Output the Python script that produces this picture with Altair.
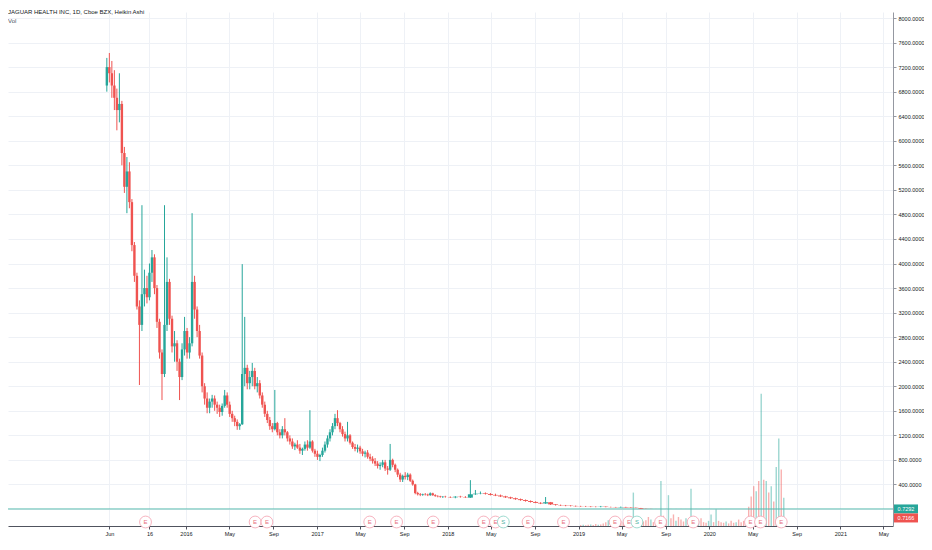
import altair as alt
import pandas as pd

TEAL = "#26a69a"
RED = "#ef5350"
FONT = "Liberation Sans"

title_text = "JAGUAR HEALTH INC, 1D, Cboe BZX, Heikin Ashi"
sub_text = "Vol"

# ---- weekly Heikin Ashi candles (from 2015-05-25) ----
wk_start = "2015-05-25"
wk_open = [6900, 7200, 7100, 6900, 6700, 6500, 6600, 5800, 5250, 5500,
           5000, 4300, 3800, 3300, 3000, 3500, 3600, 3450, 3850, 4100,
           3600, 3050, 2550, 2200, 3000, 3700, 3100, 2650, 2700, 2400,
           2150, 2600, 2900, 2550, 2700, 3700, 3250, 2900, 2500, 2000,
           1800, 1650, 1750, 1800, 1700, 1650, 1580, 1680, 1850, 1700,
           1550, 1480, 1420, 1350, 1380, 2200, 2300, 2050, 2150, 2250,
           2000, 2050, 1850, 1700, 1550, 1450, 1350, 1300, 1400, 1250,
           1200, 1300, 1250, 1150, 1100, 1020, 1050, 1000, 950, 980,
           1050, 1000, 1100, 950, 900, 850, 880, 950, 1050, 1150,
           1250, 1350, 1480, 1400, 1300, 1220, 1150, 1200, 1080, 1010,
           980, 1000, 940, 900, 920, 850, 820, 780, 740, 700,
           720, 760, 660, 640, 800, 720, 640, 560, 480, 540,
           520, 560, 460, 400, 260, 240, 230, 240, 235, 225,
           255, 225, 210, 205, 195, 200]
wk_high = [7350, 7430, 7300, 7150, 6850, 7100, 6650, 5900, 5735, 5650,
           5050, 4350, 3850, 3400, 4950, 3900, 3800, 4000, 4220, 4150,
           3650, 3100, 2600, 4950, 4100, 3750, 3150, 2900, 2750, 2450,
           2700, 3130, 2950, 2800, 4820, 3800, 3300, 3000, 2550, 2050,
           1900, 1800, 1860, 1850, 1750, 1700, 1720, 1940, 1900, 1750,
           1600, 1520, 1460, 1400, 3990, 3130, 2350, 2250, 2380, 2300,
           2150, 2100, 1900, 1750, 1600, 1500, 1400, 1940, 1420, 1300,
           1350, 1480, 1270, 1200, 1150, 1080, 1120, 1060, 1000, 1100,
           1120, 1610, 1120, 980, 950, 900, 1000, 1100, 1200, 1300,
           1400, 1550, 1610, 1420, 1350, 1260, 1420, 1220, 1100, 1060,
           1050, 1030, 980, 950, 960, 900, 860, 830, 780, 760,
           800, 800, 700, 1060, 820, 740, 660, 590, 560, 600,
           590, 580, 480, 410, 280, 260, 250, 260, 250, 270,
           265, 240, 225, 215, 210, 215]
wk_low = [6800, 6950, 6700, 6500, 6170, 6300, 5600, 5150, 4820, 4900,
          4200, 3700, 3250, 2020, 2900, 3300, 3350, 3400, 3700, 3500,
          2950, 2450, 1775, 2150, 2900, 3000, 2550, 2400, 2250, 1775,
          2100, 2500, 2450, 2450, 2650, 3100, 2800, 2450, 1900, 1700,
          1560, 1560, 1650, 1600, 1550, 1500, 1520, 1650, 1650, 1500,
          1420, 1350, 1290, 1290, 1370, 2000, 1950, 1950, 2000, 1950,
          1900, 1800, 1650, 1500, 1400, 1290, 1250, 1280, 1200, 1150,
          1150, 1200, 1100, 1050, 980, 960, 980, 900, 880, 950,
          950, 980, 920, 850, 800, 780, 850, 920, 1000, 1100,
          1200, 1300, 1350, 1250, 1180, 1100, 1100, 1050, 980, 940,
          920, 900, 860, 840, 820, 780, 740, 700, 660, 640,
          680, 620, 560, 620, 680, 600, 520, 440, 440, 480,
          470, 440, 380, 240, 220, 210, 215, 220, 210, 215,
          215, 200, 190, 185, 180, 185]
wk_close = [7200, 7100, 6900, 6700, 6500, 6600, 5800, 5250, 5500, 5000,
            4300, 3800, 3300, 3000, 3500, 3600, 3450, 3850, 4100, 3600,
            3050, 2550, 2200, 3000, 3700, 3100, 2650, 2700, 2400, 2150,
            2600, 2900, 2550, 2700, 3700, 3250, 2900, 2500, 2000, 1800,
            1650, 1750, 1800, 1700, 1650, 1580, 1680, 1850, 1700, 1550,
            1480, 1420, 1350, 1380, 2200, 2300, 2050, 2150, 2250, 2000,
            2050, 1850, 1700, 1550, 1450, 1350, 1300, 1400, 1250, 1200,
            1300, 1250, 1150, 1100, 1020, 1050, 1000, 950, 980, 1050,
            1000, 1100, 950, 900, 850, 880, 950, 1050, 1150, 1250,
            1350, 1480, 1400, 1300, 1220, 1150, 1200, 1080, 1010, 980,
            1000, 940, 900, 920, 850, 820, 780, 740, 700, 720,
            760, 660, 640, 800, 720, 640, 560, 480, 540, 520,
            560, 460, 400, 260, 240, 230, 240, 235, 225, 255,
            225, 210, 205, 195, 200, 195]

# ---- two-week candles (from 2018-01-08) ----
bw_start = "2018-01-08"
bw_open = [195, 190, 200, 195, 185, 240, 250, 255, 245, 230,
           220, 205, 190, 175, 160, 145, 130, 115, 100, 90,
           110, 75, 65, 60, 55, 50, 45, 42, 40, 36,
           34, 38, 32, 30, 26, 32, 25, 20, 16, 6,
           4, 3.0, 2.6, 2.4, 2.0, 1.9, 1.6, 1.3, 1.1, 1.0,
           1.1, 0.9, 0.75, 0.65, 0.55, 0.5, 0.4, 0.35, 0.33, 0.32,
           0.36, 0.4, 0.5, 0.7, 0.9, 0.8, 0.75]
bw_high = [205, 210, 215, 210, 470, 310, 285, 270, 260, 250,
           235, 215, 200, 185, 170, 155, 140, 125, 110, 195,
           115, 80, 72, 66, 62, 56, 52, 50, 46, 44,
           50, 42, 38, 34, 40, 36, 30, 24, 18, 8,
           5, 3.5, 3.2, 2.8, 2.6, 2.1, 1.8, 1.5, 1.3, 1.4,
           1.2, 1.0, 0.8, 0.7, 0.6, 0.55, 0.45, 0.4, 0.38, 0.4,
           0.45, 0.55, 0.8, 1.1, 1.0, 0.95, 0.85]
bw_low = [180, 175, 185, 180, 180, 230, 240, 235, 220, 210,
          195, 180, 165, 150, 135, 120, 105, 95, 80, 85,
          65, 55, 50, 45, 42, 38, 35, 33, 30, 28,
          28, 28, 25, 22, 22, 22, 18, 14, 5, 3,
          2.8, 2.4, 2.2, 1.9, 1.7, 1.5, 1.2, 1.0, 0.9, 0.9,
          0.8, 0.7, 0.6, 0.5, 0.45, 0.35, 0.3, 0.3, 0.28, 0.3,
          0.32, 0.38, 0.45, 0.6, 0.7, 0.7, 0.7]
bw_close = [190, 200, 195, 190, 240, 250, 255, 245, 230, 220,
            205, 190, 175, 160, 145, 130, 115, 100, 90, 110,
            75, 65, 60, 55, 50, 45, 42, 40, 36, 34,
            38, 32, 30, 26, 32, 25, 20, 16, 6, 4,
            3.0, 2.6, 2.4, 2.0, 1.9, 1.6, 1.3, 1.1, 1.0, 1.1,
            0.9, 0.75, 0.65, 0.55, 0.5, 0.4, 0.35, 0.33, 0.32, 0.36,
            0.4, 0.5, 0.7, 0.9, 0.8, 0.75, 0.7166]

# ---- weekly volume, millions (from 2019-01-07) ----
vol_start = "2019-01-07"
vol_values = [0.8, 1.0, 0.6, 0.9, 1.2, 0.8, 1.5, 1.0, 1.2, 2.0,
              3.0, 4.5, 2.5, 5.0, 3.5, 6.0, 4.0, 3.0, 5.5, 4.0, 6.5,
              26,
              5, 4, 6, 3.5, 4.5, 7, 5, 3, 4, 6,
              35,
              8, 5, 24, 6, 9, 4, 7, 5, 3.5, 6, 4,
              29,
              5, 3, 4, 6, 3, 2.5, 4,
              9, 3, 13, 4,
              3, 2.5, 3.5, 2, 4, 2.5, 3, 5, 3, 4, 6,
              15, 23, 31, 27, 35, 103, 36, 35, 26, 31, 19, 46, 68, 44, 22]
vol_dir = list("dudduddudd" "dudddudddud" "u" "dduddduddd" "u" "dduddudddud"
               "u" "ddudddu" "udud" "ddudddudddu" "ddd" "udududud" "uudu")

# ---- event markers ----
earn_dates = ["2015-09-10", "2016-07-12", "2016-08-14", "2017-05-28", "2017-08-11",
              "2017-11-21", "2018-04-11", "2018-05-14", "2018-06-05", "2018-08-13",
              "2018-11-20", "2019-04-13", "2019-05-22", "2019-06-13", "2019-08-18",
              "2019-11-17", "2020-04-25", "2020-05-23", "2020-07-20"]
earn_kind = ["E", "E", "E", "E", "E", "E", "E", "E", "S", "E",
             "E", "E", "E", "S", "E", "E", "E", "E", "E"]

# ---- axes ----
x_tick_dates = ["2015-06-01", "2015-09-21", "2016-01-01", "2016-05-01", "2016-09-01",
                "2017-01-01", "2017-05-01", "2017-09-01", "2018-01-01", "2018-05-01",
                "2018-09-01", "2019-01-01", "2019-05-01", "2019-09-01", "2020-01-01",
                "2020-05-01", "2020-09-01", "2021-01-01", "2021-05-01"]
x_tick_labels = ["Jun", "16", "2016", "May", "Sep", "2017", "May", "Sep", "2018", "May",
                 "Sep", "2019", "May", "Sep", "2020", "May", "Sep", "2021", "May"]
y_ticks = [-400, 0, 400, 800, 1200, 1600, 2000, 2400, 2800, 3200, 3600, 4000,
           4400, 4800, 5200, 5600, 6000, 6400, 6800, 7200, 7600, 8000]
x_domain = ["2014-09-05", "2021-05-14"]
y_domain = [-277, 8098]

last_up = 0.7292
last_down = 0.7166


def ms(d):
    return int(pd.Timestamp(d, tz="UTC").timestamp() * 1000)


wk = pd.DataFrame({"date": pd.date_range(wk_start, periods=len(wk_open), freq="7D").strftime("%Y-%m-%d"),
                   "o": wk_open, "h": wk_high, "l": wk_low, "c": wk_close})
wk["w"] = 2.4
bw = pd.DataFrame({"date": pd.date_range(bw_start, periods=len(bw_open), freq="14D").strftime("%Y-%m-%d"),
                   "o": bw_open, "h": bw_high, "l": bw_low, "c": bw_close})
bw["w"] = 5.0
cd = pd.concat([wk, bw], ignore_index=True)
cd["col"] = [TEAL if c >= o else RED for o, c in zip(cd["o"], cd["c"])]

vol = pd.DataFrame({"date": pd.date_range(vol_start, periods=len(vol_values), freq="7D").strftime("%Y-%m-%d"),
                    "v": vol_values,
                    "col": [TEAL if d == "u" else RED for d in vol_dir]})

ev = pd.DataFrame({"date": earn_dates, "kind": earn_kind,
                   "stroke": ["#f4a0ae" if k == "E" else "#86d0c3" for k in earn_kind],
                   "tcol": ["#e8707f" if k == "E" else "#4fb3a3" for k in earn_kind]})

label_expr = ("[" + ",".join(f"'{l}'" for l in x_tick_labels) + "][indexof(["
              + ",".join(f"'{d}'" for d in x_tick_dates) + "], utcFormat(datum.value, '%Y-%m-%d'))]")

x_scale = alt.Scale(type="utc", domain=[ms(x_domain[0]), ms(x_domain[1])])
x_axis = alt.Axis(values=[ms(d) for d in x_tick_dates], labelExpr=label_expr, grid=True,
                  title=None, labelOverlap=False, labelFlush=False, domainColor="#50535e",
                  tickColor="#50535e")
X = alt.X("date:T", scale=x_scale, axis=x_axis)

y_scale = alt.Scale(domain=y_domain, nice=False, zero=False)
y_axis = alt.Axis(orient="right", values=y_ticks, format=".4f", title=None, grid=True,
                  labelOverlap=False, domainColor="#9598a1", tickColor="#9598a1")

W = 885
H = 514

vol_layer = alt.Chart(vol).mark_bar(size=1.4, opacity=0.45).encode(
    x=X,
    y=alt.Y("v:Q", scale=alt.Scale(domain=[0, 400], nice=False), axis=None),
    color=alt.Color("col:N", scale=None),
)

wick = alt.Chart(cd).mark_rule(strokeWidth=1).encode(
    x=X,
    y=alt.Y("l:Q", scale=y_scale, axis=y_axis),
    y2="h:Q",
    color=alt.Color("col:N", scale=None),
)
body = alt.Chart(cd).mark_bar().encode(
    x=X,
    y=alt.Y("o:Q", scale=y_scale, axis=y_axis),
    y2="c:Q",
    size=alt.Size("w:Q", scale=None),
    color=alt.Color("col:N", scale=None),
)

pl = pd.DataFrame({"p": [last_up]})
price_line = alt.Chart(pl).mark_rule(color="#5bbdb1", strokeWidth=1).encode(
    y=alt.Y("p:Q", scale=y_scale, axis=y_axis)
)

box_up_df = pd.DataFrame({"p": [last_up], "lab": [f"{last_up:.4f}"]})
box_dn_df = pd.DataFrame({"p": [last_down], "lab": [f"{last_down:.4f}"]})
box_up = alt.Chart(box_up_df).mark_rect(height=9, color=TEAL).encode(
    y=alt.Y("p:Q", scale=y_scale, axis=y_axis), x=alt.value(W + 1), x2=alt.value(W + 25))
box_dn = alt.Chart(box_dn_df).mark_rect(height=9, color=RED, yOffset=9).encode(
    y=alt.Y("p:Q", scale=y_scale, axis=y_axis), x=alt.value(W + 1), x2=alt.value(W + 25))
txt_up = alt.Chart(box_up_df).mark_text(color="white", fontSize=5.5, font=FONT, align="center",
                                         baseline="middle").encode(
    y=alt.Y("p:Q", scale=y_scale, axis=y_axis), x=alt.value(W + 13), text="lab:N")
txt_dn = alt.Chart(box_dn_df).mark_text(color="white", fontSize=5.5, font=FONT, align="center",
                                         baseline="middle", dy=9).encode(
    y=alt.Y("p:Q", scale=y_scale, axis=y_axis), x=alt.value(W + 13), text="lab:N")

ev_circle = alt.Chart(ev).mark_point(shape="circle", filled=True, fill="white", size=140,
                                     strokeWidth=0.8, opacity=1).encode(
    x=X, y=alt.value(510), stroke=alt.Stroke("stroke:N", scale=None))
ev_text = alt.Chart(ev).mark_text(fontSize=6, font=FONT, align="center", baseline="middle").encode(
    x=X, y=alt.value(510), text="kind:N", color=alt.Color("tcol:N", scale=None))

hdr = pd.DataFrame({"t": [title_text], "s": [sub_text]})
title_mark = alt.Chart(hdr).mark_text(fontSize=6, font=FONT, align="left", baseline="top",
                                      color="#131722").encode(
    x=alt.value(0), y=alt.value(-3), text="t:N")
sub_mark = alt.Chart(hdr).mark_text(fontSize=6, font=FONT, align="left", baseline="middle",
                                    color="#4c525e").encode(
    x=alt.value(0), y=alt.value(9), text="s:N")

price = alt.layer(price_line, wick, body, ev_circle, ev_text, box_up, box_dn, txt_up, txt_dn,
                  title_mark, sub_mark)

chart = alt.layer(vol_layer, price).resolve_scale(y="independent").properties(
    width=W, height=H,
    padding={"left": 0, "top": 4, "right": 31, "bottom": 16},
    autosize=alt.AutoSizeParams(type="none"),
    background="white",
).configure_view(strokeWidth=0).configure_axis(
    labelFont=FONT, labelFontSize=5.5, labelColor="#131722", gridColor="#eef1f6",
    tickSize=3, labelPadding=2, domainWidth=1, gridWidth=1,
)

chart.save("out.html", embed_options={"renderer": "svg", "actions": False})
